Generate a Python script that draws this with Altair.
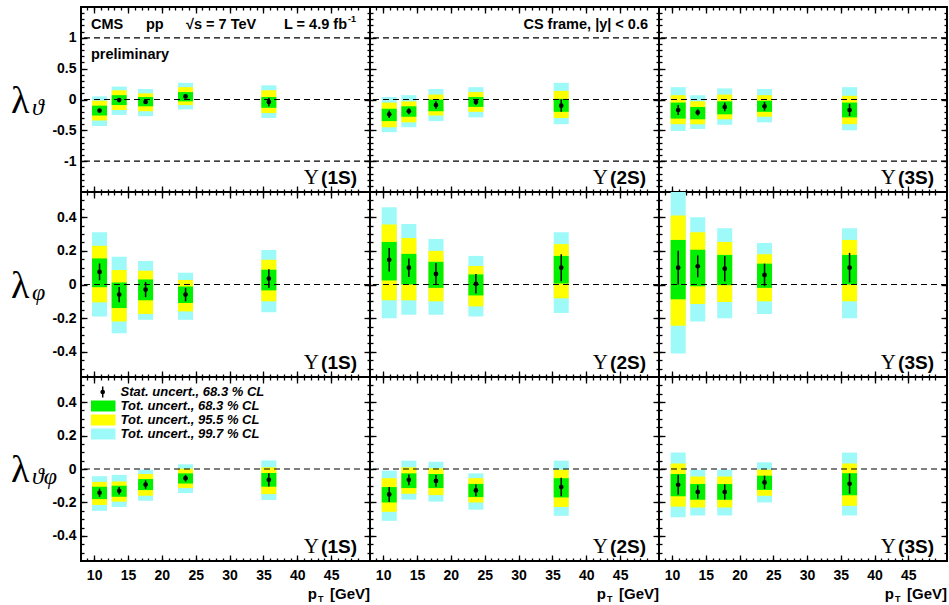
import altair as alt
import pandas as pd

SANS = "Liberation Sans"
SERIF = "Liberation Serif"
CYAN = "#9ef9f9"
YELLOW = "#ffff00"
GREEN = "#00f000"

STATE_LABELS = ["(1S)", "(2S)", "(3S)"]
PT = [[10.8, 13.7, 17.6, 23.5, 35.8],
      [10.9, 13.8, 17.8, 23.7, 36.3],
      [10.9, 13.8, 17.8, 23.7, 36.3]]

# ---- lambda_theta ----
LTH = [[-0.18, -0.01, -0.04, 0.05, -0.04],
       [-0.24, -0.19, -0.09, -0.04, -0.10],
       [-0.17, -0.21, -0.12, -0.11, -0.17]]
LTH_STAT = [[0.03, 0.03, 0.03, 0.03, 0.07],
            [0.06, 0.05, 0.06, 0.05, 0.10],
            [0.08, 0.05, 0.07, 0.07, 0.10]]
LTH_68_LO = [[-0.26, -0.09, -0.11, -0.03, -0.135],
             [-0.35, -0.28, -0.19, -0.12, -0.20],
             [-0.31, -0.32, -0.24, -0.20, -0.29]]
LTH_68_HI = [[-0.10, 0.07, 0.04, 0.12, 0.04],
             [-0.15, -0.11, 0.0, 0.04, 0.01],
             [-0.05, -0.12, -0.03, -0.02, -0.05]]
LTH_95_LO = [[-0.34, -0.17, -0.19, -0.09, -0.22],
             [-0.45, -0.37, -0.26, -0.20, -0.30],
             [-0.40, -0.40, -0.32, -0.28, -0.40]]
LTH_95_HI = [[-0.02, 0.15, 0.10, 0.20, 0.15],
             [-0.05, -0.03, 0.08, 0.12, 0.14],
             [0.07, -0.03, 0.08, 0.07, 0.06]]
LTH_997_LO = [[-0.43, -0.25, -0.27, -0.16, -0.30],
              [-0.53, -0.45, -0.35, -0.29, -0.40],
              [-0.51, -0.48, -0.41, -0.37, -0.50]]
LTH_997_HI = [[0.05, 0.21, 0.17, 0.27, 0.23],
              [0.04, 0.07, 0.17, 0.20, 0.27],
              [0.20, 0.07, 0.18, 0.17, 0.20]]

# ---- lambda_phi ----
LPH = [[0.075, -0.06, -0.03, -0.06, 0.035],
       [0.147, 0.10, 0.063, 0.004, 0.10],
       [0.10, 0.108, 0.094, 0.057, 0.10]]
LPH_STAT = [[0.05, 0.045, 0.045, 0.04, 0.055],
            [0.07, 0.055, 0.065, 0.058, 0.08],
            [0.10, 0.065, 0.075, 0.067, 0.088]]
LPH_68_LO = [[-0.016, -0.14, -0.094, -0.11, -0.035],
             [0.024, 0.0, -0.02, -0.065, 0.006],
             [-0.088, -0.01, -0.004, -0.02, 0.0]]
LPH_68_HI = [[0.155, 0.012, 0.03, -0.012, 0.088],
             [0.253, 0.182, 0.135, 0.06, 0.17],
             [0.265, 0.206, 0.176, 0.124, 0.176]]
LPH_95_LO = [[-0.106, -0.22, -0.175, -0.16, -0.10],
             [-0.094, -0.094, -0.10, -0.13, -0.082],
             [-0.245, -0.116, -0.104, -0.10, -0.10]]
LPH_95_HI = [[0.23, 0.086, 0.082, 0.027, 0.147],
             [0.357, 0.276, 0.20, 0.11, 0.24],
             [0.41, 0.31, 0.253, 0.18, 0.265]]
LPH_997_LO = [[-0.19, -0.29, -0.21, -0.21, -0.165],
              [-0.20, -0.18, -0.18, -0.19, -0.17],
              [-0.41, -0.22, -0.20, -0.175, -0.20]]
LPH_997_HI = [[0.31, 0.165, 0.14, 0.07, 0.205],
              [0.46, 0.36, 0.27, 0.17, 0.31],
              [0.56, 0.40, 0.335, 0.247, 0.335]]

# ---- lambda_thetaphi ----
LTP = [[-0.142, -0.13, -0.093, -0.055, -0.065],
       [-0.152, -0.065, -0.071, -0.128, -0.108],
       [-0.094, -0.137, -0.137, -0.08, -0.088]]
LTP_STAT = [[0.025, 0.022, 0.025, 0.02, 0.04],
            [0.045, 0.032, 0.035, 0.035, 0.055],
            [0.06, 0.04, 0.045, 0.04, 0.06]]
LTP_68_LO = [[-0.18, -0.166, -0.126, -0.087, -0.106],
             [-0.20, -0.114, -0.114, -0.168, -0.17],
             [-0.163, -0.184, -0.184, -0.125, -0.157]]
LTP_68_HI = [[-0.106, -0.10, -0.06, -0.026, -0.024],
             [-0.108, -0.026, -0.03, -0.089, -0.055],
             [-0.03, -0.09, -0.09, -0.04, -0.025]]
LTP_95_LO = [[-0.215, -0.195, -0.16, -0.114, -0.15],
             [-0.256, -0.148, -0.156, -0.20, -0.227],
             [-0.225, -0.23, -0.23, -0.16, -0.22]]
LTP_95_HI = [[-0.077, -0.075, -0.03, 0.002, 0.01],
             [-0.055, 0.01, 0.004, -0.055, -0.004],
             [0.033, -0.045, -0.045, -0.004, 0.033]]
LTP_997_LO = [[-0.25, -0.227, -0.19, -0.144, -0.185],
              [-0.31, -0.183, -0.195, -0.243, -0.28],
              [-0.288, -0.278, -0.278, -0.20, -0.278]]
LTP_997_HI = [[-0.043, -0.035, -0.004, 0.028, 0.051],
              [-0.01, 0.05, 0.043, -0.026, 0.05],
              [0.098, -0.004, -0.004, 0.04, 0.098]]

REF_LTH = [-1, 0, 1]
REF_OTHER = [0]

LEGEND_LABELS = ["Stat. uncert., 68.3 % CL", "Tot. uncert., 68.3 % CL",
                 "Tot. uncert., 95.5 % CL", "Tot. uncert., 99.7 % CL"]
LEGEND_COLORS = ["black", GREEN, YELLOW, CYAN]

X_DOMAIN = [8.8, 50]
X_MAJOR = [10, 15, 20, 25, 30, 35, 40, 45]
X_MINOR = list(range(9, 50))
Y_DOMAINS = [[-1.5, 1.5], [-0.55, 0.55], [-0.55, 0.55]]
Y_MAJOR = [[-1, -0.5, 0, 0.5, 1], [-0.4, -0.2, 0, 0.2, 0.4], [-0.4, -0.2, 0, 0.2, 0.4]]
Y_MINOR = [[round(-1.4 + 0.1 * i, 2) for i in range(29)],
           [round(-0.5 + 0.05 * i, 2) for i in range(21)],
           [round(-0.5 + 0.05 * i, 2) for i in range(21)]]

PARAMS = [
    (LTH, LTH_STAT, LTH_68_LO, LTH_68_HI, LTH_95_LO, LTH_95_HI, LTH_997_LO, LTH_997_HI, REF_LTH),
    (LPH, LPH_STAT, LPH_68_LO, LPH_68_HI, LPH_95_LO, LPH_95_HI, LPH_997_LO, LPH_997_HI, REF_OTHER),
    (LTP, LTP_STAT, LTP_68_LO, LTP_68_HI, LTP_95_LO, LTP_95_HI, LTP_997_LO, LTP_997_HI, REF_OTHER),
]
LAMBDA_SUBS = ["\u03d1", "\u03c6", "\u03d1\u03c6"]

WIDTHS = [289, 289, 288]
HEIGHTS = [185, 185, 184]
MAJ, MIN = 6, 3
ONE = pd.DataFrame({"k": [0]})
LABEL_EXPR = "replace(format(datum.value, '~g'), '\u2212', '-')"


def ax(orient, values, size, labels=False, pad=5):
    kw = dict(orient=orient, values=values, tickSize=size, offset=-size, domain=False,
              grid=False, title=None, labels=labels, ticks=True, tickColor="black",
              tickWidth=1.3)
    if labels:
        kw.update(labelFont=SANS, labelFontSize=14, labelFontWeight="bold",
                  labelColor="black", labelPadding=pad, labelOverlap=False,
                  labelFlush=False, labelExpr=LABEL_EXPR)
    return alt.Axis(**kw)


def txt(text, x, y, size, font=SANS, weight="bold", style="normal", align="left",
        baseline="alphabetic"):
    return alt.Chart(ONE).mark_text(
        text=text, font=font, fontSize=size, fontWeight=weight, fontStyle=style,
        align=align, baseline=baseline, color="black"
    ).encode(x=alt.value(x), y=alt.value(y))


def panel(r, c):
    w, h = WIDTHS[c], HEIGHTS[r]
    cen, st, l68, h68, l95, h95, l997, h997, refs = PARAMS[r]
    df = pd.DataFrame({
        "pt": PT[c], "c": cen[c],
        "slo": [a - b for a, b in zip(cen[c], st[c])],
        "shi": [a + b for a, b in zip(cen[c], st[c])],
        "lo68": l68[c], "hi68": h68[c], "lo95": l95[c], "hi95": h95[c],
        "lo997": l997[c], "hi997": h997[c],
    })
    xs = alt.Scale(domain=X_DOMAIN, nice=False, zero=False)
    ys = alt.Scale(domain=Y_DOMAINS[r], nice=False, zero=False)
    base = alt.Chart(df)
    bottom_lab = r == 2
    left_lab = c == 0

    cyan = base.mark_bar(size=15, color=CYAN, clip=True).encode(
        x=alt.X("pt:Q", scale=xs, axis=ax("bottom", X_MAJOR, MAJ, bottom_lab, 7)),
        y=alt.Y("lo997:Q", scale=ys, axis=ax("left", Y_MAJOR[r], MAJ, left_lab, 5)),
        y2="hi997:Q")
    yel = base.mark_bar(size=15, color=YELLOW, clip=True).encode(
        x=alt.X("pt:Q", scale=xs, axis=ax("bottom", X_MINOR, MIN)),
        y=alt.Y("lo95:Q", scale=ys, axis=ax("left", Y_MINOR[r], MIN)),
        y2="hi95:Q")
    grn = base.mark_bar(size=15, color=GREEN, clip=True).encode(
        x=alt.X("pt:Q", scale=xs, axis=ax("top", X_MAJOR, MAJ)),
        y=alt.Y("lo68:Q", scale=ys, axis=ax("right", Y_MAJOR[r], MAJ)),
        y2="hi68:Q")
    ref = alt.Chart(pd.DataFrame({"v": refs})).mark_rule(
        color="black", strokeDash=[6, 4], strokeWidth=1.2).encode(
        y=alt.Y("v:Q", scale=ys, axis=None))
    stat = base.mark_rule(color="black", strokeWidth=1.5).encode(
        x=alt.X("pt:Q", scale=xs, axis=ax("top", X_MINOR, MIN)),
        y=alt.Y("slo:Q", scale=ys, axis=ax("right", Y_MINOR[r], MIN)),
        y2="shi:Q")
    pts = base.mark_point(filled=True, size=22, color="black", opacity=1).encode(
        x=alt.X("pt:Q", scale=xs, axis=None),
        y=alt.Y("c:Q", scale=ys, axis=None))

    layers = [cyan, yel, grn, ref, stat, pts]

    # state label
    layers.append(txt(STATE_LABELS[c], w - 13, h - 8, 19, align="right"))
    layers.append(txt("\u03a5", w - 51, h - 8, 21, font=SERIF, weight="normal", align="right"))

    if c == 0:
        layers.append(txt("\u03bb", -70, h / 2 + 13, 38, font=SERIF, weight="normal"))
        layers.append(txt(LAMBDA_SUBS[r], -49, h / 2 + 15, 24, font=SERIF, weight="normal",
                          style="italic"))
    if r == 0 and c == 0:
        layers += [
            txt("CMS", 10, 22, 14.5),
            txt("pp", 65, 22, 14.5),
            txt("\u221as = 7 TeV", 105, 22, 14.5),
            txt("L = 4.9 fb", 266, 22, 14.5, align="right"),
            txt("-1", 267, 15, 9),
            txt("preliminary", 10, 51.5, 14.5),
        ]
    if r == 0 and c == 1:
        layers.append(txt("CS frame, |y| < 0.6", w - 11, 22, 14.5, align="right"))
    if r == 2:
        layers += [
            txt("[GeV]", w, h + 38, 15, align="right"),
            txt("p", w - 53, h + 38, 15, align="right"),
            txt("T", w - 52, h + 41, 9),
        ]
    if r == 2 and c == 0:
        # legend
        rows_y = [15.0, 29.0, 43.0, 57.0]
        layers.append(alt.Chart(ONE).mark_rule(color="black", strokeWidth=1.5).encode(
            x=alt.value(21.7), y=alt.value(rows_y[0] - 5.5), y2=alt.value(rows_y[0] + 5.5)))
        layers.append(alt.Chart(ONE).mark_point(filled=True, size=22, color="black",
                                                opacity=1).encode(
            x=alt.value(21.7), y=alt.value(rows_y[0])))
        for i in range(1, 4):
            layers.append(alt.Chart(ONE).mark_rect(color=LEGEND_COLORS[i]).encode(
                x=alt.value(10), x2=alt.value(34.5),
                y=alt.value(rows_y[i] - 5.5), y2=alt.value(rows_y[i] + 5.5)))
        for i in range(4):
            layers.append(txt(LEGEND_LABELS[i], 39.5, rows_y[i], 13, style="italic",
                              baseline="middle"))

    return alt.layer(*layers).resolve_axis(x="independent", y="independent").properties(
        width=w, height=h)


panels = [panel(r, c) for r in range(3) for c in range(3)]

chart = alt.concat(*panels, columns=3, spacing=0, bounds="flush").properties(
    padding={"left": 10, "top": 5, "right": 0, "bottom": 0},
    background="white",
).configure_view(stroke="black", strokeWidth=2)

chart.save("out.html", embed_options={"renderer": "svg", "actions": False})
